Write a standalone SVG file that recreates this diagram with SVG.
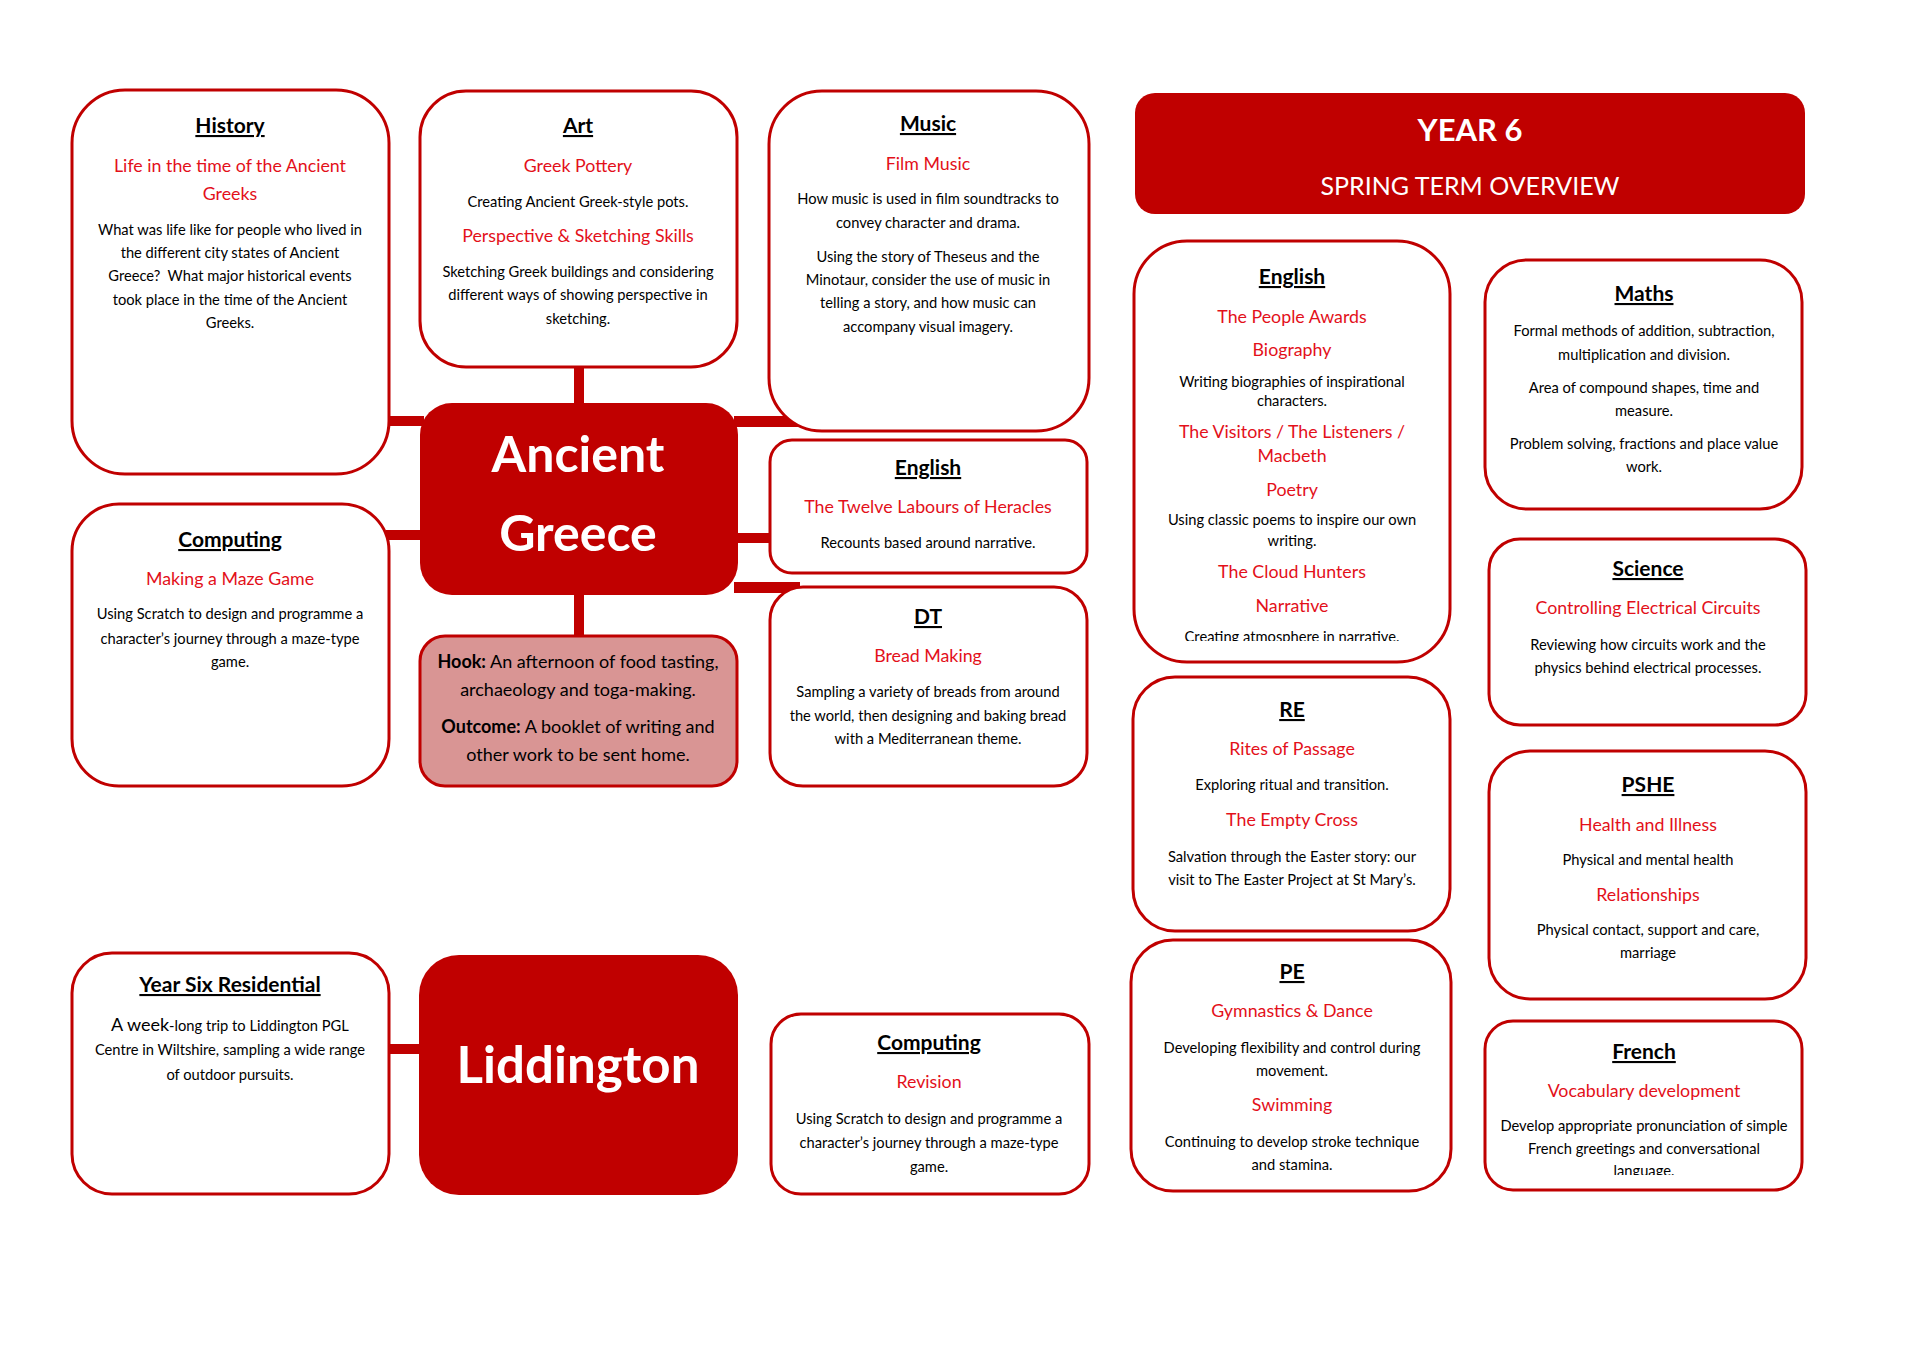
<svg xmlns="http://www.w3.org/2000/svg" width="1920" height="1358" viewBox="0 0 1920 1358">
<style>
.box{fill:#fff;stroke:#C00000;stroke-width:3}
.hub{fill:#C00000}
.bar{fill:#C00000}
text{font-family:Lato,"Liberation Sans",sans-serif;text-anchor:middle}
.h{font-weight:700;font-size:21px;text-decoration:underline;fill:#000}
.r{font-size:17.8px;fill:#E3101A}
.b{font-size:14.7px;fill:#000}
.k{font-size:18px;fill:#000}
.big{font-weight:700;font-size:50px;fill:#fff}
</style>
<defs>
<clipPath id="clipEng"><rect x="1134" y="241" width="316" height="400"/></clipPath>
<clipPath id="clipFr"><rect x="1485" y="1021" width="317" height="154"/></clipPath>
</defs>
<rect width="1920" height="1358" fill="#fff"/>
<g id="connectors">
<rect class="bar" x="574" y="364" width="10" height="42"/>
<rect class="bar" x="386" y="416" width="38" height="10"/>
<rect class="bar" x="734" y="416" width="66" height="11"/>
<rect class="bar" x="386" y="530" width="38" height="10"/>
<rect class="bar" x="734" y="533" width="40" height="10"/>
<rect class="bar" x="734" y="582" width="66" height="11"/>
<rect class="bar" x="574" y="590" width="10" height="48"/>
<rect class="bar" x="386" y="1044" width="38" height="10"/>
</g>
<g id="history">
<rect class="box" x="72" y="90" width="317" height="384" rx="53"/>
<text class="h" x="230" y="133">History</text>
<text class="r" x="230" y="172">Life in the time of the Ancient</text>
<text class="r" x="230" y="200">Greeks</text>
<text class="b" x="230" y="235">What was life like for people who lived in</text>
<text class="b" x="230" y="258">the different city states of Ancient</text>
<text class="b" x="230" y="281" xml:space="preserve">Greece?  What major historical events</text>
<text class="b" x="230" y="305">took place in the time of the Ancient</text>
<text class="b" x="230" y="328">Greeks.</text>
</g>
<g id="art">
<rect class="box" x="420" y="91" width="317" height="276" rx="46"/>
<text class="h" x="578" y="133">Art</text>
<text class="r" x="578" y="172">Greek Pottery</text>
<text class="b" x="578" y="207">Creating Ancient Greek-style pots.</text>
<text class="r" x="578" y="242">Perspective &amp; Sketching Skills</text>
<text class="b" x="578" y="277">Sketching Greek buildings and considering</text>
<text class="b" x="578" y="300">different ways of showing perspective in</text>
<text class="b" x="578" y="324">sketching.</text>
</g>
<g id="music">
<rect class="box" x="769" y="91" width="320" height="340" rx="53"/>
<text class="h" x="928" y="131">Music</text>
<text class="r" x="928" y="170">Film Music</text>
<text class="b" x="928" y="204">How music is used in film soundtracks to</text>
<text class="b" x="928" y="228">convey character and drama.</text>
<text class="b" x="928" y="262">Using the story of Theseus and the</text>
<text class="b" x="928" y="285">Minotaur, consider the use of music in</text>
<text class="b" x="928" y="308">telling a story, and how music can</text>
<text class="b" x="928" y="332">accompany visual imagery.</text>
</g>
<g id="header">
<rect class="hub" x="1135" y="93" width="670" height="121" rx="20"/>
<text x="1470" y="141" style="font-weight:700;font-size:31px;fill:#fff">YEAR 6</text>
<text x="1470" y="195" style="font-size:25px;fill:#fff">SPRING TERM OVERVIEW</text>
</g>
<g id="ancient-greece">
<rect class="hub" x="420" y="403" width="318" height="192" rx="32"/>
<text class="big" x="578" y="472">Ancient</text>
<text class="big" x="578" y="551">Greece</text>
</g>
<g id="english-mid">
<rect class="box" x="770" y="440" width="317" height="133" rx="22"/>
<text class="h" x="928" y="475">English</text>
<text class="r" x="928" y="513">The Twelve Labours of Heracles</text>
<text class="b" x="928" y="548">Recounts based around narrative.</text>
</g>
<g id="computing-left">
<rect class="box" x="72" y="504" width="317" height="282" rx="47"/>
<text class="h" x="230" y="547">Computing</text>
<text class="r" x="230" y="585">Making a Maze Game</text>
<text class="b" x="230" y="619">Using Scratch to design and programme a</text>
<text class="b" x="230" y="644">character’s journey through a maze-type</text>
<text class="b" x="230" y="667">game.</text>
</g>
<g id="hook">
<rect x="420" y="636" width="317" height="150" rx="25" fill="#D99594" stroke="#C00000" stroke-width="3"/>
<text class="k" x="578" y="668"><tspan font-weight="700">Hook:</tspan> An afternoon of food tasting,</text>
<text class="k" x="578" y="696">archaeology and toga-making.</text>
<text class="k" x="578" y="733"><tspan font-weight="700">Outcome:</tspan> A booklet of writing and</text>
<text class="k" x="578" y="761">other work to be sent home.</text>
</g>
<g id="dt">
<rect class="box" x="770" y="587" width="317" height="199" rx="33"/>
<text class="h" x="928" y="624">DT</text>
<text class="r" x="928" y="662">Bread Making</text>
<text class="b" x="928" y="697">Sampling a variety of breads from around</text>
<text class="b" x="928" y="721">the world, then designing and baking bread</text>
<text class="b" x="928" y="744">with a Mediterranean theme.</text>
</g>
<g id="english-right">
<rect class="box" x="1134" y="241" width="316" height="421" rx="53"/>
<text class="h" x="1292" y="284">English</text>
<text class="r" x="1292" y="323">The People Awards</text>
<text class="r" x="1292" y="356">Biography</text>
<text class="b" x="1292" y="387">Writing biographies of inspirational</text>
<text class="b" x="1292" y="406">characters.</text>
<text class="r" x="1292" y="438">The Visitors / The Listeners /</text>
<text class="r" x="1292" y="462">Macbeth</text>
<text class="r" x="1292" y="496">Poetry</text>
<text class="b" x="1292" y="525">Using classic poems to inspire our own</text>
<text class="b" x="1292" y="546">writing.</text>
<text class="r" x="1292" y="578">The Cloud Hunters</text>
<text class="r" x="1292" y="612">Narrative</text>
<text class="b" x="1292" y="642" clip-path="url(#clipEng)">Creating atmosphere in narrative.</text>
</g>
<g id="maths">
<rect class="box" x="1485" y="260" width="317" height="249" rx="42"/>
<text class="h" x="1644" y="301">Maths</text>
<text class="b" x="1644" y="336">Formal methods of addition, subtraction,</text>
<text class="b" x="1644" y="360">multiplication and division.</text>
<text class="b" x="1644" y="393">Area of compound shapes, time and</text>
<text class="b" x="1644" y="416">measure.</text>
<text class="b" x="1644" y="449">Problem solving, fractions and place value</text>
<text class="b" x="1644" y="472">work.</text>
</g>
<g id="science">
<rect class="box" x="1489" y="539" width="317" height="186" rx="31"/>
<text class="h" x="1648" y="576">Science</text>
<text class="r" x="1648" y="614">Controlling Electrical Circuits</text>
<text class="b" x="1648" y="650">Reviewing how circuits work and the</text>
<text class="b" x="1648" y="673">physics behind electrical processes.</text>
</g>
<g id="re">
<rect class="box" x="1133" y="677" width="317" height="254" rx="42"/>
<text class="h" x="1292" y="717">RE</text>
<text class="r" x="1292" y="755">Rites of Passage</text>
<text class="b" x="1292" y="790">Exploring ritual and transition.</text>
<text class="r" x="1292" y="826">The Empty Cross</text>
<text class="b" x="1292" y="862">Salvation through the Easter story: our</text>
<text class="b" x="1292" y="885">visit to The Easter Project at St Mary’s.</text>
</g>
<g id="pshe">
<rect class="box" x="1489" y="751" width="317" height="248" rx="41"/>
<text class="h" x="1648" y="792">PSHE</text>
<text class="r" x="1648" y="831">Health and Illness</text>
<text class="b" x="1648" y="865">Physical and mental health</text>
<text class="r" x="1648" y="901">Relationships</text>
<text class="b" x="1648" y="935">Physical contact, support and care,</text>
<text class="b" x="1648" y="958">marriage</text>
</g>
<g id="pe">
<rect class="box" x="1131" y="940" width="320" height="251" rx="42"/>
<text class="h" x="1292" y="979">PE</text>
<text class="r" x="1292" y="1017">Gymnastics &amp; Dance</text>
<text class="b" x="1292" y="1053">Developing flexibility and control during</text>
<text class="b" x="1292" y="1076">movement.</text>
<text class="r" x="1292" y="1111">Swimming</text>
<text class="b" x="1292" y="1147">Continuing to develop stroke technique</text>
<text class="b" x="1292" y="1170">and stamina.</text>
</g>
<g id="french">
<rect class="box" x="1485" y="1021" width="317" height="169" rx="28"/>
<text class="h" x="1644" y="1059">French</text>
<text class="r" x="1644" y="1097">Vocabulary development</text>
<text class="b" x="1644" y="1131">Develop appropriate pronunciation of simple</text>
<text class="b" x="1644" y="1154">French greetings and conversational</text>
<text class="b" x="1644" y="1176" clip-path="url(#clipFr)">language.</text>
</g>
<g id="residential">
<rect class="box" x="72" y="953" width="317" height="241" rx="40"/>
<text class="h" x="230" y="992">Year Six Residential</text>
<text class="b" x="230" y="1031"><tspan font-size="18px">A week</tspan>-long trip to Liddington PGL</text>
<text class="b" x="230" y="1055">Centre in Wiltshire, sampling a wide range</text>
<text class="b" x="230" y="1080">of outdoor pursuits.</text>
</g>
<g id="liddington">
<rect class="hub" x="419" y="955" width="319" height="240" rx="40"/>
<text class="big" x="578" y="1083" style="font-size:51px">Liddington</text>
</g>
<g id="computing-bottom">
<rect class="box" x="771" y="1014" width="318" height="180" rx="30"/>
<text class="h" x="929" y="1050">Computing</text>
<text class="r" x="929" y="1088">Revision</text>
<text class="b" x="929" y="1124">Using Scratch to design and programme a</text>
<text class="b" x="929" y="1148">character’s journey through a maze-type</text>
<text class="b" x="929" y="1172">game.</text>
</g>
</svg>
